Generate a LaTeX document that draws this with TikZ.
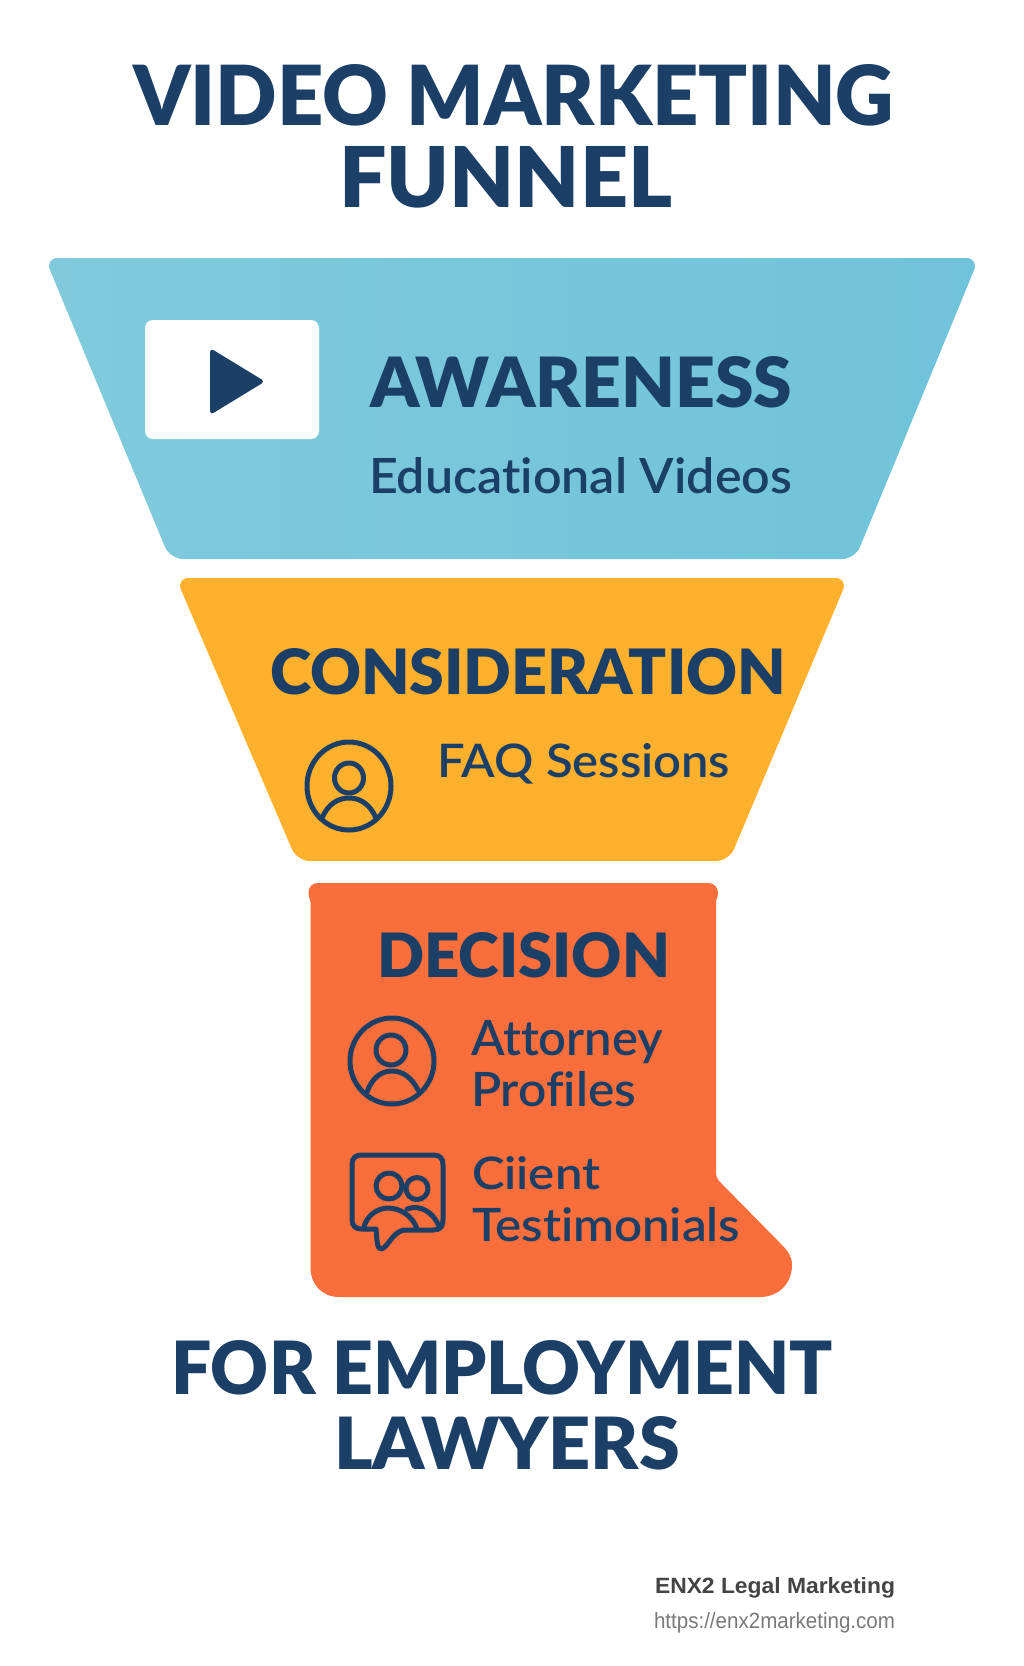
\documentclass[tikz,border=0pt]{standalone}
\usepackage{graphicx}
\usepackage{fontspec}
\setmainfont{Lato}
\newfontfamily\heavyfont[Ligatures=NoCommon]{Lato Black}
\newfontfamily\medfont[Ligatures=NoCommon]{Lato Semibold}
\newfontfamily\footfont{Liberation Sans}
\definecolor{navy}{HTML}{1B3F66}
\definecolor{bluefunnelL}{HTML}{80CADC}
\definecolor{bluefunnelR}{HTML}{6FC3DA}
\definecolor{amberfunnel}{HTML}{FFB02C}
\definecolor{redfunnel}{HTML}{FA6E3C}
\definecolor{footdark}{HTML}{444444}
\definecolor{footgrey}{HTML}{7A7A7A}
\tikzset{
  txt/.style={inner sep=0pt,outer sep=0pt,anchor=base west,text=navy},
  iconline/.style={draw=navy,line width=5pt,line cap=round,line join=round},
}
\newcommand{\fitbox}[3]{\resizebox{#1pt}{#2pt}{#3}}
\begin{document}
\begin{tikzpicture}[x=1pt,y=-1pt]
\useasboundingbox (0,0) rectangle (1024,1666);
\fill[white] (0,0) rectangle (1024,1666);

% funnel bands
\path[left color=bluefunnelL,right color=bluefunnelR,rounded corners=13pt]
  (45,258) -- (979,258) -- (855,559) -- (170,559) -- cycle;
\fill[amberfunnel,rounded corners=13pt]
  (176,578) -- (848,578) -- (729,861) -- (297,861) -- cycle;
\fill[redfunnel]
  (318,883) -- (708,883)
  .. controls (714,883) and (718,887) .. (718,893)
  .. controls (718,897) and (716,899) .. (716,903)
  -- (716,1173)
  .. controls (716,1177) and (718,1180) .. (721,1183)
  -- (780,1243)
  .. controls (788,1251) and (792,1256) .. (792,1265)
  .. controls (792,1284) and (778,1297) .. (760,1297)
  -- (339,1297)
  .. controls (322,1297) and (310.5,1284) .. (310.5,1268)
  -- (310.5,903)
  .. controls (310.5,899) and (308.5,897) .. (308.5,893)
  .. controls (308.5,887) and (312,883) .. (318,883) -- cycle;

% titles
\node[txt] (t1) at (133,125) {\fitbox{761}{61}{\heavyfont VIDEO MARKETING}};
\node[txt] (t2) at (339,207) {\fitbox{333}{61}{\heavyfont FUNNEL}};
\node[txt] (t3) at (171,1394) {\fitbox{662}{54}{\heavyfont FOR EMPLOYMENT}};
\node[txt] (t4) at (334,1469) {\fitbox{346}{53}{\heavyfont LAWYERS}};

% awareness
\node[draw=none,fill=white,rounded corners=8pt,minimum width=174pt,minimum height=119pt,inner sep=0pt] (playbox) at (232,379.5) {};
\fill[navy,rounded corners=4pt] (210,348) -- (210,415) -- (265,381.5) -- cycle;
\node[txt] (aw) at (370,407) {\fitbox{422}{51}{\heavyfont AWARENESS}};
\node[txt] (edu) at (369,493) {\fitbox{423}{36}{\medfont Educational Videos}};

% consideration
\node[txt] (co) at (270,694) {\fitbox{516}{46}{\heavyfont CONSIDERATION}};
\node[txt] (faq) at (437,777) {\fitbox{293}{34}{\medfont FAQ Sessions}};
\draw[iconline] (349,786) circle[x radius=42,y radius=44];
\draw[iconline] (349,778) circle[x radius=14.5,y radius=15];
\draw[iconline] (322,818) .. controls (328,804) and (338,798) .. (349,798) .. controls (360,798) and (370,804) .. (376,818);

% decision
\node[txt] (de) at (377,977) {\fitbox{293}{45}{\heavyfont DECISION}};
\draw[iconline] (392,1061) circle[x radius=42,y radius=43];
\draw[iconline] (391,1050) circle[x radius=15,y radius=15];
\draw[iconline] (367,1092) .. controls (372,1078) and (381,1071) .. (392,1071) .. controls (403,1071) and (412,1078) .. (418,1090);
\node[txt] (at) at (471,1055) {\fitbox{192}{35}{\medfont Attorney}};
\node[txt] (pr) at (471,1106) {\fitbox{165}{35}{\medfont Profiles}};

\draw[iconline]
  (362,1155) -- (433,1155)
  .. controls (440,1155) and (443,1158) .. (443,1165)
  -- (443,1220)
  .. controls (443,1227) and (440,1230) .. (433,1230)
  -- (404,1230)
  .. controls (392,1232) and (388,1248) .. (381,1249)
  .. controls (377,1249) and (377,1240) .. (376,1229)
  -- (362,1229)
  .. controls (355,1229) and (352,1226) .. (352,1219)
  -- (352,1165)
  .. controls (352,1158) and (355,1155) .. (362,1155) -- cycle;
\draw[iconline] (389,1186) circle[x radius=13,y radius=13];
\draw[iconline] (417,1188.5) circle[x radius=11,y radius=11];
\draw[iconline] (364,1227) .. controls (367,1215) and (378,1208) .. (388,1208) .. controls (400,1208) and (413,1216) .. (417,1229);
\draw[iconline] (407,1209) .. controls (420,1204) and (433,1212) .. (439,1226);
\node[txt] (cl) at (472,1189) {\fitbox{128}{33}{\medfont Ciient}};
\node[txt] (te) at (472,1241) {\fitbox{268}{34}{\medfont Testimonials}};

% footer
\node[txt,text=footdark] (f1) at (655,1593) {\fitbox{240}{16}{\footfont\bfseries ENX2 Legal Marketing}};
\node[txt,text=footgrey] (f2) at (654,1628) {\fitbox{241}{16}{\footfont https://enx2marketing.com}};
\end{tikzpicture}
\end{document}
